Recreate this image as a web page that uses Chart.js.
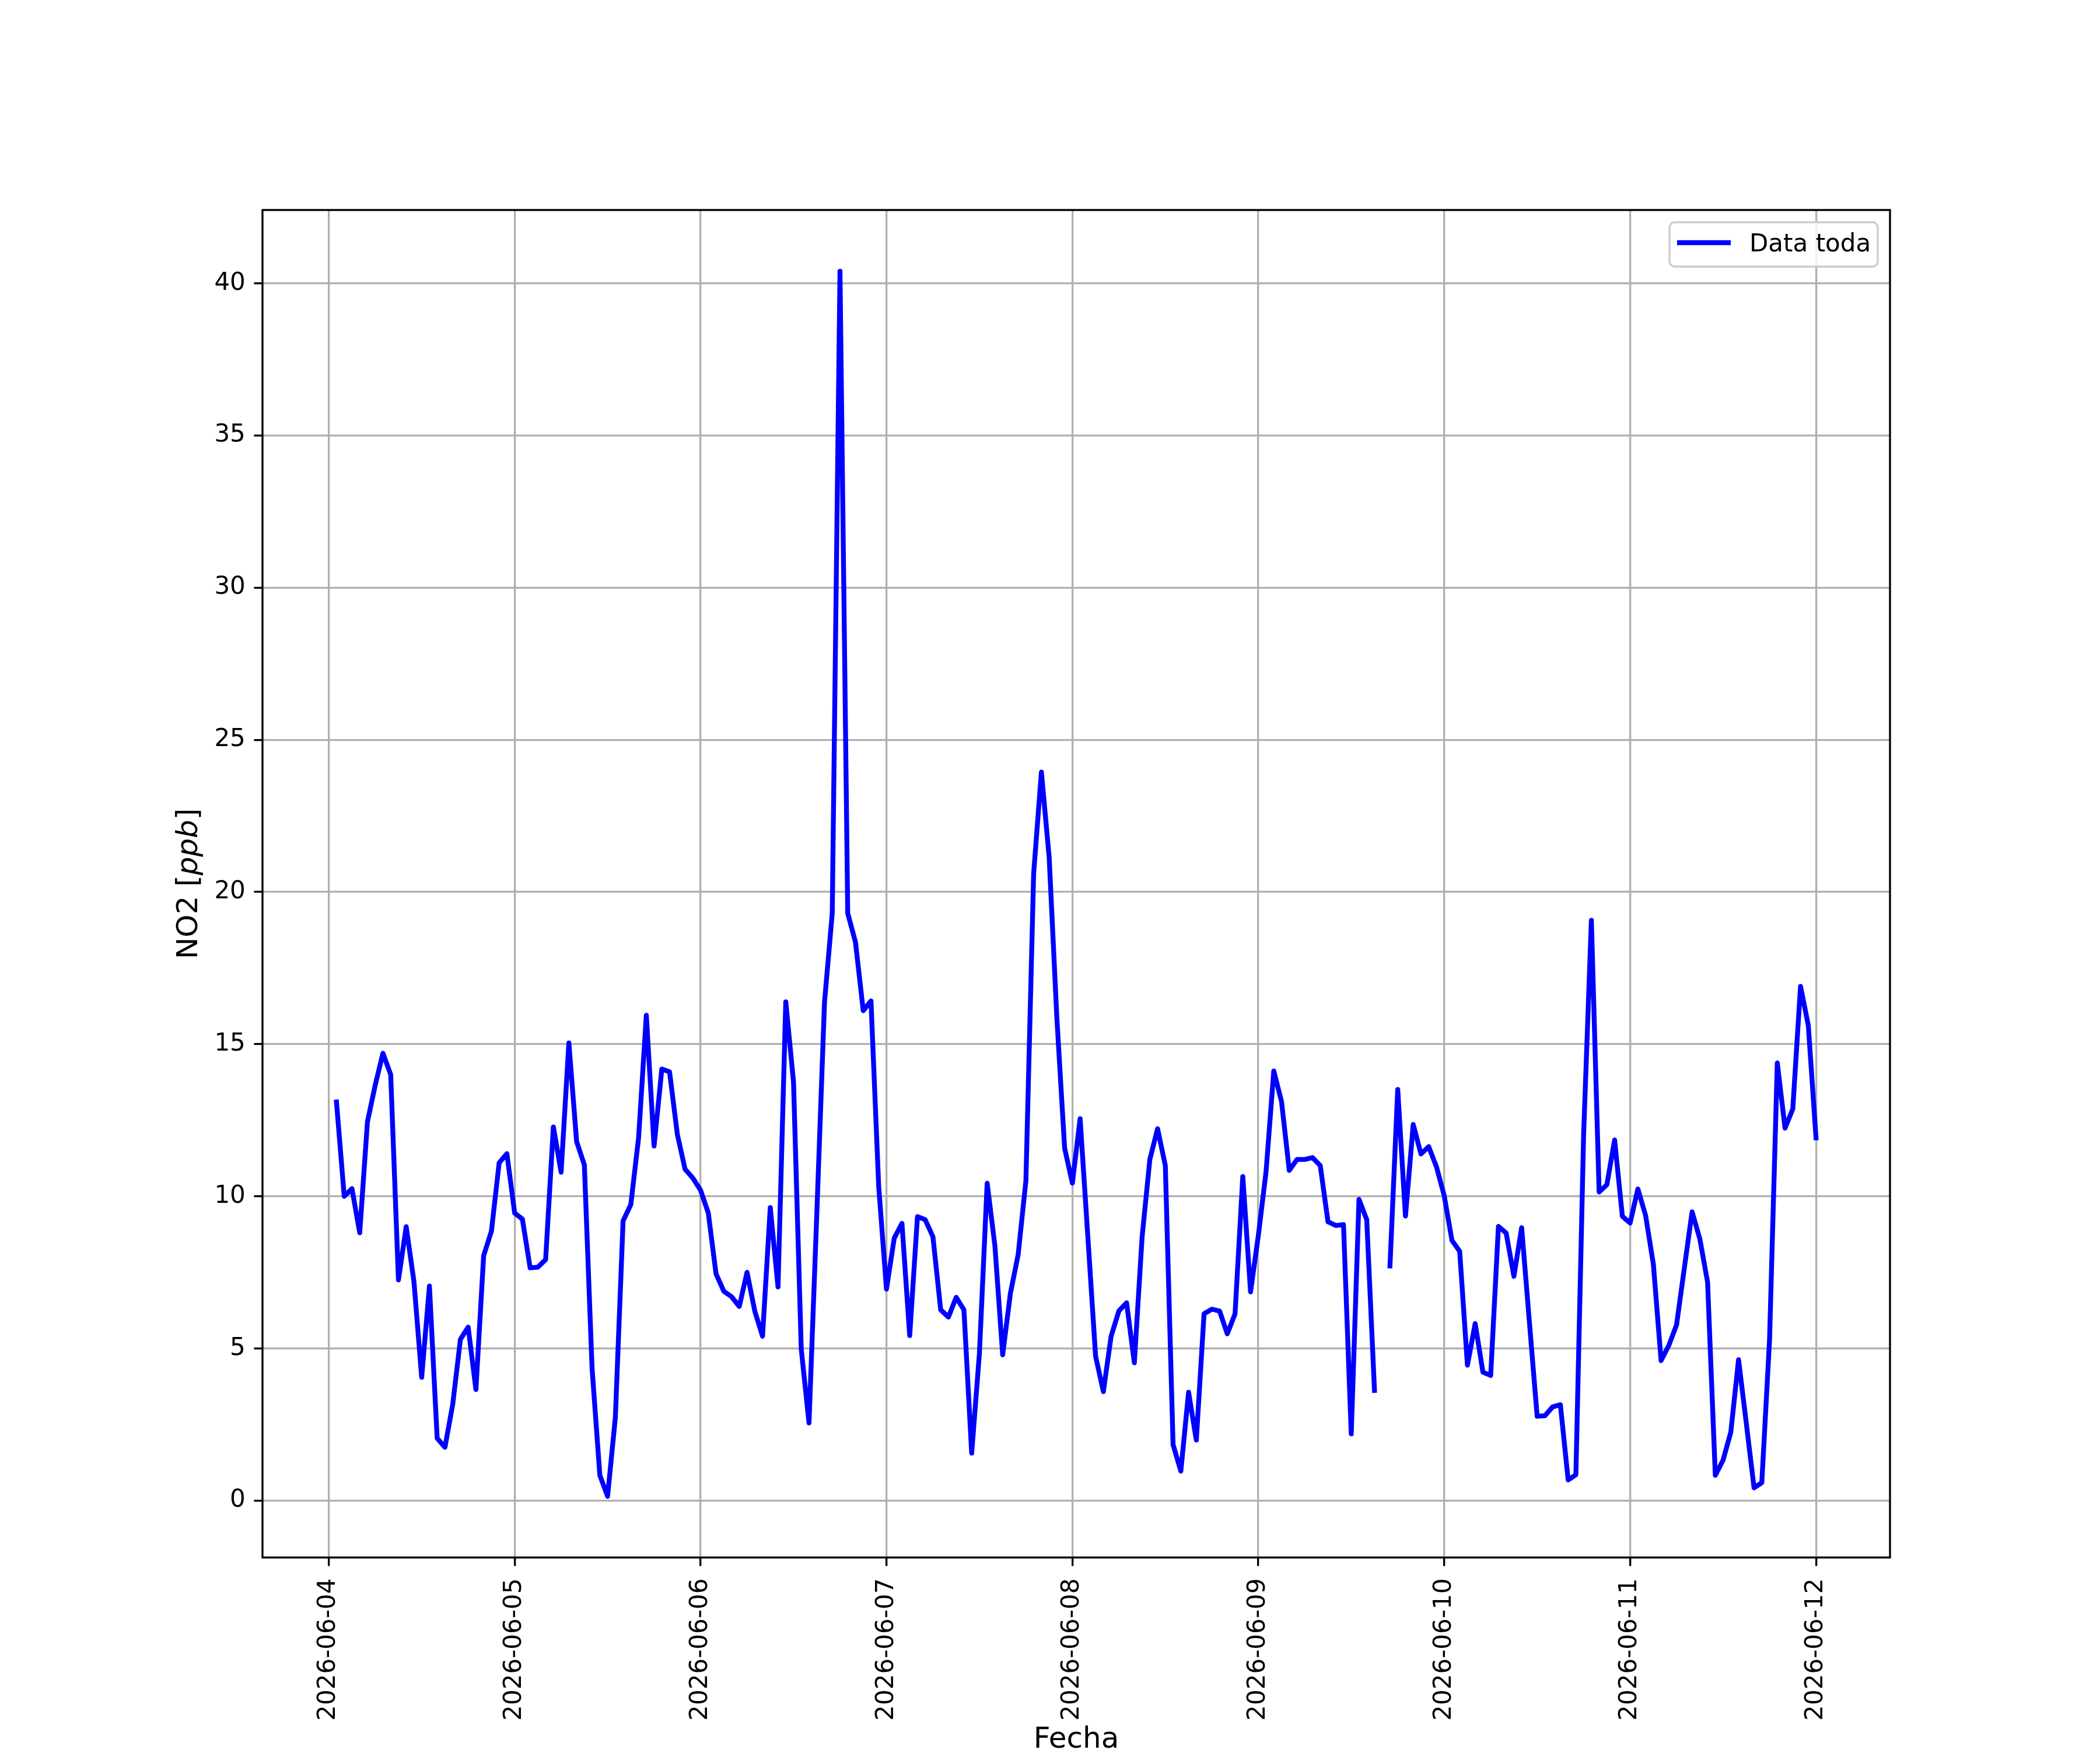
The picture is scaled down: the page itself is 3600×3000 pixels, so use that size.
<!DOCTYPE html>
<html>
<head>
<meta charset="utf-8">
<script src="https://cdn.jsdelivr.net/npm/chart.js@4.4.1/dist/chart.umd.min.js"></script>
<style>
html, body { margin: 0; padding: 0; background: #fff; }
#wrap { width: 3600px; height: 3000px; }
</style>
</head>
<body>
<div id="wrap"><canvas id="myChart" width="3600" height="3000"></canvas></div>
<script>
// Data (hourly NO2, first value at 2026-06-04 01:00)
const fechas = ['2026-06-04', '2026-06-05', '2026-06-06', '2026-06-07', '2026-06-08',
                '2026-06-09', '2026-06-10', '2026-06-11', '2026-06-12'];
const horaInicio = 1;
const no2 = [
  13.1, 10.0, 10.25, 8.8, 12.45, 13.65, 14.7, 14.0, 7.25, 9.0, 7.2, 4.05,
  7.05, 2.05, 1.75, 3.15, 5.3, 5.7, 3.65, 8.05, 8.85, 11.1, 11.4, 9.45,
  9.25, 7.65, 7.67, 7.92, 12.28, 10.79, 15.04, 11.8, 11.03, 4.33, 0.83, 0.14,
  2.73, 9.19, 9.73, 11.92, 15.95, 11.65, 14.18, 14.09, 12.04, 10.89, 10.6, 10.2,
  9.45, 7.45, 6.88, 6.7, 6.38, 7.5, 6.23, 5.4, 9.63, 7.02, 16.39, 13.76,
  4.98, 2.55, 9.37, 16.37, 19.3, 40.4, 19.3, 18.35, 16.1, 16.42, 10.32, 6.95,
  8.62, 9.11, 5.42, 9.33, 9.23, 8.67, 6.27, 6.03, 6.68, 6.27, 1.56, 4.84,
  10.43, 8.37, 4.79, 6.81, 8.08, 10.51, 20.6, 23.94, 21.15, 15.85, 11.58, 10.43,
  12.55, 8.66, 4.74, 3.58, 5.4, 6.23, 6.5, 4.53, 8.66, 11.21, 12.22, 11.01,
  1.84, 0.97, 3.56, 1.99, 6.14, 6.29, 6.23, 5.48, 6.14, 10.65, 6.86, 8.7,
  10.8, 14.12, 13.11, 10.85, 11.21, 11.21, 11.27, 11.01, 9.16, 9.04, 9.07, 2.19,
  9.9, 9.23, 3.62, null, 7.71, 13.51, 9.35, 12.36, 11.39, 11.63, 10.97, 10.02,
  8.55, 8.19, 4.45, 5.82, 4.22, 4.11, 9.01, 8.79, 7.37, 8.97, 5.86, 2.77,
  2.79, 3.08, 3.15, 0.68, 0.85, 12.05, 19.07, 10.14, 10.38, 11.85, 9.34, 9.12,
  10.24, 9.37, 7.77, 4.6, 5.1, 5.78, 7.64, 9.49, 8.6, 7.18, 0.83, 1.33,
  2.25, 4.63, 2.54, 0.42, 0.59, 5.28, 14.38, 12.24, 12.87, 16.9, 15.62, 11.92
];
const yTicks = [0, 5, 10, 15, 20, 25, 30, 35, 40];
const serie = 'Data toda';

// points at hour offsets from 2026-06-04 00:00
const puntos = no2.map((v, i) => ({ x: horaInicio + i, y: v }));

const FONT = 'DejaVu Sans';
const PT = 300 / 72;

Chart.defaults.font.family = FONT;
Chart.defaults.color = '#000';

// spines, axis titles, legend
const extras = {
  id: 'extras',
  beforeDraw(chart) {
    const c = chart.ctx;
    c.save();
    c.fillStyle = '#fff';
    c.fillRect(0, 0, chart.width, chart.height);
    c.restore();
  },
  afterDatasetsDraw(chart) {
    const c = chart.ctx, a = chart.chartArea;
    c.save();
    c.strokeStyle = '#000';
    c.lineWidth = 0.8 * PT;
    c.strokeRect(a.left, a.top, a.right - a.left, a.bottom - a.top);
    c.restore();
  },
  afterDraw(chart) {
    const c = chart.ctx, a = chart.chartArea;
    c.save();

    // x title
    c.fillStyle = '#000';
    c.font = '50px "' + FONT + '"';
    c.textAlign = 'center';
    c.textBaseline = 'alphabetic';
    c.fillText('Fecha', (a.left + a.right) / 2, 2996);

    // y title: NO2 [ppb] with italic ppb
    const parts = [['NO2 [', ''], ['ppb', 'italic '], [']', '']];
    let total = 0;
    parts.forEach(p => { c.font = p[1] + '50px "' + FONT + '"'; p.push(c.measureText(p[0]).width); total += p[2]; });
    c.translate(338, (a.top + a.bottom) / 2);
    c.rotate(-Math.PI / 2);
    c.textAlign = 'left';
    let px = -total / 2;
    parts.forEach(p => { c.font = p[1] + '50px "' + FONT + '"'; c.fillText(p[0], px, 0); px += p[2]; });
    c.setTransform(1, 0, 0, 1, 0, 0);

    // legend
    const bw = 357, bh = 76;
    const bx = a.right - 21 - bw, by = a.top + 21;
    c.beginPath();
    c.roundRect(bx, by, bw, bh, 9);
    c.fillStyle = 'rgba(255,255,255,0.8)';
    c.fill();
    c.strokeStyle = '#cccccc';
    c.lineWidth = 0.8 * PT;
    c.stroke();
    c.beginPath();
    c.moveTo(bx + 13, by + 35);
    c.lineTo(bx + 105, by + 35);
    c.strokeStyle = 'blue';
    c.lineWidth = 2 * PT;
    c.lineCap = 'butt';
    c.stroke();
    c.fillStyle = '#000';
    c.font = '42px "' + FONT + '"';
    c.textAlign = 'left';
    c.fillText(serie, bx + 137, by + 50);
    c.restore();
  }
};

const chart = new Chart(document.getElementById('myChart').getContext('2d'), {
  type: 'line',
  data: {
    datasets: [{
      label: serie,
      data: puntos,
      borderColor: 'blue',
      borderWidth: 2 * PT,
      pointRadius: 0,
      tension: 0,
      spanGaps: false,
      borderJoinStyle: 'round',
      borderCapStyle: 'square',
      fill: false
    }]
  },
  options: {
    responsive: false,
    animation: false,
    devicePixelRatio: 1,
    layout: { padding: { top: 360, right: 360, left: 0, bottom: 0 } },
    plugins: { legend: { display: false }, tooltip: { enabled: false } },
    scales: {
      x: {
        type: 'linear',
        min: -8.55,
        max: 201.55,
        afterBuildTicks: s => { s.ticks = fechas.map((_, i) => ({ value: i * 24 })); },
        afterFit: s => { s.height = 330; },
        border: { display: false },
        grid: { color: '#b0b0b0', lineWidth: 0.8 * PT, drawTicks: true, tickLength: 3.5 * PT, tickColor: '#000', tickWidth: 0.8 * PT },
        ticks: {
          autoSkip: false,
          minRotation: 90,
          maxRotation: 90,
          padding: 21,
          font: { size: 42 },
          color: '#000',
          callback: v => fechas[Math.round(v / 24)]
        }
      },
      y: {
        type: 'linear',
        min: -1.87,
        max: 42.41,
        afterBuildTicks: s => { s.ticks = yTicks.map(v => ({ value: v })); },
        afterFit: s => { s.width = 450; },
        border: { display: false },
        grid: { color: '#b0b0b0', lineWidth: 0.8 * PT, drawTicks: true, tickLength: 3.5 * PT, tickColor: '#000', tickWidth: 0.8 * PT },
        ticks: {
          padding: 3.5 * PT,
          font: { size: 42 },
          color: '#000',
          callback: v => String(v)
        }
      }
    }
  },
  plugins: [extras]
});
</script>
</body>
</html>
